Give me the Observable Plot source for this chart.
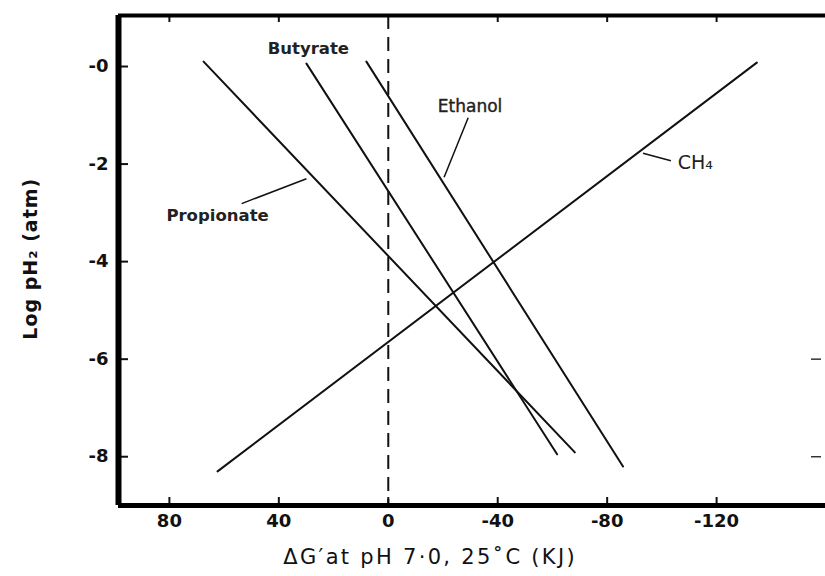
<!DOCTYPE html>
<html><head><meta charset="utf-8">
<script src="https://cdn.jsdelivr.net/npm/d3@7"></script>
<script src="https://cdn.jsdelivr.net/npm/@observablehq/plot@0.6"></script>
<style>body{margin:0;background:#fff;overflow:hidden} svg{display:block}</style>
</head><body><div id="chart"></div>
<script>
// Lines: ΔG' (kJ) vs log pH2 (atm)
const series   = ["Propionate", "Butyrate", "Ethanol", "CH4"];
const dgStart  = [67.5, 29.9, 8.0, 62.4];
const logStart = [0.10, 0.06, 0.10, -8.30];
const dgEnd    = [-68.2, -61.7, -85.8, -134.7];
const logEnd   = [-7.91, -7.95, -8.20, 0.08];

// labels
const labelText = ["Propionate", "Butyrate", "Ethanol", "CH\u2084"];
const labelX    = [62.4, 29.2, -29.9, -105.8];
const labelY    = [-3.05, 0.37, -0.82, -1.97];
const labelBold = [true, true, false, false];
const labelLeft = [false, false, false, true];

// leader lines (Propionate, Ethanol, CH4)
const leaderX1 = [53.6, -29.2, -103.3];
const leaderY1 = [-2.81, -1.05, -1.93];
const leaderX2 = [29.9, -20.4, -93.1];
const leaderY2 = [-2.30, -2.27, -1.78];

// axes
const xTicks = [80, 40, 0, -40, -80, -120];
const topTicks = [80, 40, -40, -80, -120];
const yTicks = [0, -2, -4, -6, -8];
const rightTicks = [-6, -8];
const xDomain = [98.6, -159.8];
const yDomain = [-9.0, 1.046];
const xTitle = "\u0394G\u2032at pH 7\u00b70, 25\u02daC (KJ)";
const yTitle = "Log pH\u2082 (atm)";

const lines = [];
series.forEach((s, i) => {
  lines.push({series: s, dg: dgStart[i], log: logStart[i]});
  lines.push({series: s, dg: dgEnd[i], log: logEnd[i]});
});
const labels = labelText.map((t, i) => ({t, x: labelX[i], y: labelY[i], bold: labelBold[i], left: labelLeft[i]}));
const leaders = leaderX1.map((x, i) => ({x1: x, y1: leaderY1[i], x2: leaderX2[i], y2: leaderY2[i]}));

const W = 825, H = 576, mL = 118, mT = 15, mB = 71, mR = 0;
const fw = W - mL - mR, fh = H - mT - mB;
const font = "DejaVu Sans, Verdana, sans-serif";

const plot = Plot.plot({
  width: W, height: H,
  marginLeft: mL, marginTop: mT, marginBottom: mB, marginRight: mR,
  style: {fontFamily: font, background: "#fff", color: "#111"},
  x: {domain: xDomain},
  y: {domain: yDomain},
  marks: [
    // dashed zero line
    Plot.ruleX([0], {stroke: "#111", strokeWidth: 2, strokeDasharray: "14,8"}),
    // data lines
    Plot.line(lines, {x: "dg", y: "log", z: "series", stroke: "#111", strokeWidth: 2}),
    // leader lines
    Plot.link(leaders, {x1: "x1", y1: "y1", x2: "x2", y2: "y2", stroke: "#111", strokeWidth: 1.5}),
    // labels
    Plot.text(labels.filter(d => d.bold), {x: "x", y: "y", text: "t", fontSize: 16.5, fontWeight: "bold", fill: "#222"}),
    Plot.text(labels.filter(d => !d.bold && !d.left), {x: "x", y: "y", text: "t", fontSize: 17, fill: "#222", stroke: "#222", strokeWidth: 0.4}),
    Plot.text(labels.filter(d => d.left), {x: "x", y: "y", text: "t", fontSize: 19, textAnchor: "start", fill: "#222"}),
    // tick marks
    Plot.ruleX(xTicks, {x: d => d, insetTop: fh - 8, stroke: "#111", strokeWidth: 2}),
    Plot.ruleX(topTicks, {x: d => d, insetBottom: fh - 7, stroke: "#111", strokeWidth: 2}),
    Plot.ruleY(yTicks, {y: d => d, insetLeft: 0, insetRight: fw - 10, stroke: "#111", strokeWidth: 2}),
    Plot.ruleY(rightTicks, {y: d => d, insetLeft: fw - 14, insetRight: 4, stroke: "#333", strokeWidth: 1.5}),
    // frame: thick left, bottom, top
    Plot.ruleX([xDomain[0]], {stroke: "#000", strokeWidth: 6}),
    Plot.ruleY([yDomain[0]], {stroke: "#000", strokeWidth: 5}),
    Plot.ruleY([yDomain[1]], {stroke: "#000", strokeWidth: 4}),
    // axes labels
    Plot.axisX({anchor: "bottom", ticks: xTicks, tickSize: 0, tickPadding: 9, tickFormat: d => String(d),
      fontSize: 18, fontWeight: "bold", label: null}),
    Plot.axisY({anchor: "left", ticks: yTicks, tickSize: 0, tickPadding: 10, tickFormat: d => "-" + Math.abs(d),
      fontSize: 18, fontWeight: "bold", label: null}),
    Plot.text([xTitle], {x: -15.3, frameAnchor: "bottom", dy: 58, text: d => d, fontSize: 21, fill: "#111"}),
    Plot.text([yTitle], {y: -3.94, frameAnchor: "left", dx: -88, rotate: -90, textAnchor: "middle", text: d => d, fontSize: 19, fontWeight: "bold", fill: "#111"})
  ]
});
document.getElementById("chart").appendChild(plot);
d3.select(plot).selectAll("text").filter(function () { return this.textContent === xTitle; })
  .style("letter-spacing", "2.3px");
d3.select(plot).selectAll("text").filter(function () { return this.textContent === yTitle; })
  .style("letter-spacing", "1px");
</script>
</body></html>
